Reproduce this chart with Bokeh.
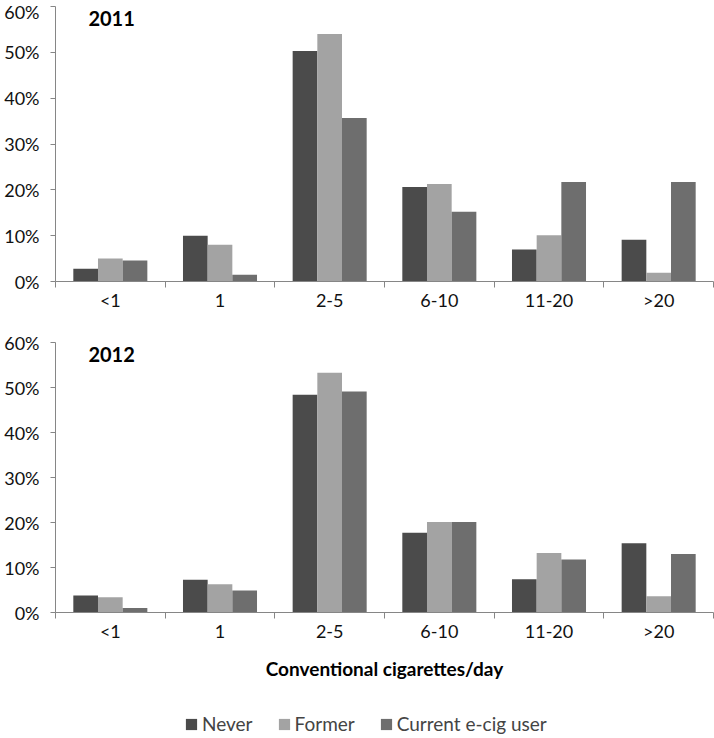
from bokeh.plotting import figure
from bokeh.models import Range1d, FixedTicker, Legend, LegendItem, Label
from bokeh.layouts import column
from bokeh.embed import file_html
from bokeh.resources import INLINE

categories = ["<1", "1", "2-5", "6-10", "11-20", ">20"]
series = ["Never", "Former", "Current e-cig user"]
colors = ["#4b4b4b", "#a3a3a3", "#6e6e6e"]

never_2011 = [2.8, 10.0, 50.3, 20.6, 7.0, 9.1]
former_2011 = [5.0, 8.0, 54.0, 21.3, 10.1, 1.9]
current_2011 = [4.6, 1.5, 35.7, 15.2, 21.7, 21.7]

never_2012 = [3.8, 7.3, 48.4, 17.7, 7.4, 15.4]
former_2012 = [3.4, 6.3, 53.3, 20.1, 13.2, 3.6]
current_2012 = [1.0, 4.9, 49.1, 20.1, 11.8, 13.0]

y_ticks = [0, 10, 20, 30, 40, 50, 60]

FONT = "Lato"
AXIS_COLOR = "#868686"
BAR_W = 0.225
OFFSETS = [-BAR_W, 0.0, BAR_W]
W = 714


def make_panel(values, year, height, top, bottom, last):
    n = len(categories)
    p = figure(width=W, height=height, output_backend="svg", toolbar_location=None,
               x_range=Range1d(0, n), y_range=Range1d(0, 60),
               min_border_left=55, min_border_right=1,
               min_border_top=top, min_border_bottom=bottom)
    p.outline_line_color = None
    p.xgrid.visible = False
    p.ygrid.visible = False
    p.background_fill_color = "white"

    for vals, off, col in zip(values, OFFSETS, colors):
        xs = [i + 0.5 + off for i in range(n)]
        p.vbar(x=xs, top=vals, width=BAR_W, bottom=0, fill_color=col,
               line_color=None)

    xa = p.xaxis[0]
    xa.ticker = FixedTicker(ticks=[i + 0.5 for i in range(n)],
                            minor_ticks=list(range(n + 1)))
    xa.major_label_overrides = {i + 0.5: c for i, c in enumerate(categories)}
    xa.major_tick_line_color = None
    xa.major_tick_out = 5
    xa.major_tick_in = 0
    xa.minor_tick_line_color = AXIS_COLOR
    xa.minor_tick_out = 6
    xa.minor_tick_in = 0
    xa.axis_line_color = AXIS_COLOR
    xa.major_label_standoff = 1
    xa.major_label_text_font = FONT
    xa.major_label_text_font_size = "18px"
    xa.major_label_text_color = "#111111"

    ya = p.yaxis[0]
    ya.ticker = FixedTicker(ticks=y_ticks, minor_ticks=[])
    ya.major_label_overrides = {t: f"{t}%" for t in y_ticks}
    ya.major_tick_line_color = AXIS_COLOR
    ya.major_tick_out = 5
    ya.major_tick_in = 0
    ya.minor_tick_line_color = None
    ya.axis_line_color = AXIS_COLOR
    ya.major_label_standoff = 11
    ya.major_label_text_font = FONT
    ya.major_label_text_font_size = "18px"
    ya.major_label_text_color = "#111111"

    p.add_layout(Label(x=0.3, y=57.4, text=year, text_font=FONT,
                       text_font_style="bold", text_font_size="20px",
                       text_baseline="middle", text_align="left",
                       text_color="black"))

    if last:
        xa.axis_label = "Conventional cigarettes/day"
        xa.axis_label_text_font = FONT
        xa.axis_label_text_font_style = "bold"
        xa.axis_label_text_font_size = "19px"
        xa.axis_label_standoff = 12
        xa.axis_label_text_color = "black"
    return p


p1 = make_panel([never_2011, former_2011, current_2011], "2011", 318, 6, 37, False)
p2 = make_panel([never_2012, former_2012, current_2012], "2012", 372, 24, 78, True)

# legend strip: proxy renderers (hidden) carrying the 2012 series
pl = figure(width=W, height=48, output_backend="svg", toolbar_location=None,
            x_axis_type=None, y_axis_type=None,
            x_range=Range1d(0, 1), y_range=Range1d(0, 1),
            min_border_left=0, min_border_right=0, min_border_top=0, min_border_bottom=0)
pl.outline_line_color = None
pl.xgrid.visible = False
pl.ygrid.visible = False
legend_renderers = []
for vals, col in zip([never_2012, former_2012, current_2012], colors):
    r = pl.vbar(x=list(range(len(categories))), top=vals, width=0.1,
                fill_color=col, line_color=None)
    r.visible = False
    legend_renderers.append(r)
legend = Legend(items=[LegendItem(label=s, renderers=[r])
                       for s, r in zip(series, legend_renderers)],
                orientation="horizontal", location=(129, 3),
                border_line_color=None, background_fill_alpha=0,
                inactive_fill_alpha=0,
                glyph_width=14, glyph_height=14,
                label_text_font=FONT, label_text_font_size="19px",
                label_standoff=4, spacing=24, padding=0, margin=0)
pl.add_layout(legend, "center")

layout = column(p1, p2, pl, spacing=0)
open("out.html", "w").write(file_html(layout, INLINE))
